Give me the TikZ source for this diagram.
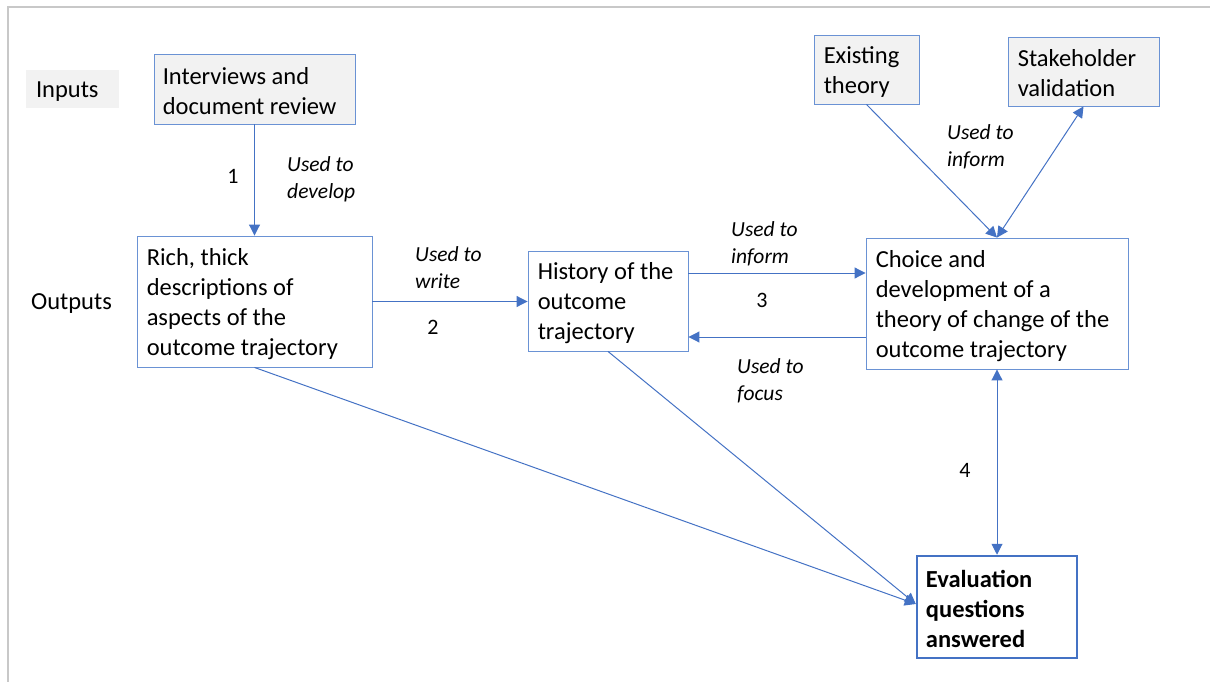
\documentclass[tikz,border=0pt]{standalone}
\usepackage{fontspec}
\setmainfont{Carlito}
\usetikzlibrary{arrows.meta,calc}
\definecolor{ablue}{HTML}{4472C4}
\definecolor{bblue}{HTML}{6A92D4}
\definecolor{ifill}{HTML}{F2F2F2}
\definecolor{framec}{HTML}{C8C8C8}
\begin{document}
\begin{tikzpicture}[x=1pt,y=-1pt,
  box/.style={draw=bblue,line width=0.9pt,inner sep=0pt},
  txt/.style={align=left,inner sep=0pt,anchor=west,font=\fontsize{24.5}{30}\selectfont},
  lbl/.style={font=\fontsize{21.5}{27}\selectfont\itshape,align=left,anchor=west,inner sep=0pt},
  num/.style={font=\fontsize{22}{27}\selectfont,inner sep=0pt},
  arr/.style={draw=ablue,line width=1pt,-{Triangle[length=11pt,width=11pt]}},
  darr/.style={draw=ablue,line width=1pt,{Triangle[length=11pt,width=11pt]}-{Triangle[length=11pt,width=11pt]}}]
\useasboundingbox (0,0) rectangle (1210,682);
\draw[framec,line width=2pt] (8,682) -- (8,7) -- (1210,7);

\node[fill=ifill,inner sep=0pt,minimum width=93pt,minimum height=38pt] (inp) at (72.5,89) {};
\node[txt] (inpt) at ([xshift=10pt,yshift=-3pt]inp.west) {Inputs};
\node[txt,anchor=center] (out) at (71.5,304) {Outputs};

\node[box,fill=ifill,minimum width=201pt,minimum height=70pt] (int) at (254.5,89) {};
\node[txt] (intt) at ([xshift=9pt,yshift=-2pt]int.west) {Interviews and\\document review};
\node[box,minimum width=235pt,minimum height=131pt] (rich) at (254.5,301.5) {};
\node[txt] (richt) at ([xshift=10pt,yshift=-2.5pt]rich.west) {Rich, thick\\descriptions of\\aspects of the\\outcome trajectory};
\node[box,minimum width=160pt,minimum height=100pt] (hist) at (608,301) {};
\node[txt] (histt) at ([xshift=10pt,yshift=-2pt]hist.west) {History of the\\outcome\\trajectory};
\node[box,minimum width=262pt,minimum height=131pt] (choice) at (997,303.5) {};
\node[txt] (choicet) at ([xshift=10pt,yshift=-3pt]choice.west) {Choice and\\development of a\\theory of change of the\\outcome trajectory};
\node[box,fill=ifill,minimum width=105pt,minimum height=69pt] (exist) at (866.5,69.5) {};
\node[txt] (existt) at ([xshift=10pt,yshift=-2.5pt]exist.west) {Existing\\theory};
\node[box,fill=ifill,minimum width=151pt,minimum height=69pt] (stake) at (1083.5,71.5) {};
\node[txt] (staket) at ([xshift=10pt,yshift=-2pt]stake.west) {Stakeholder\\validation};
\node[box,draw=ablue,line width=2.5pt,minimum width=160pt,minimum height=102pt] (eval) at (997,607) {};
\node[txt,font=\fontsize{24.5}{30}\selectfont\bfseries] (evalt) at ([xshift=10pt,yshift=-2pt]eval.west) {Evaluation\\questions\\answered};

\node[lbl] (l1) at (287,179) {Used to\\develop};
\node[lbl] (l2) at (415,268) {Used to\\write};
\node[lbl] (l3) at (731,244) {Used to\\inform};
\node[lbl] (l4) at (737,381) {Used to\\focus};
\node[lbl] (l5) at (947,147) {Used to\\inform};
\node[num] (n1) at (233,176) {1};
\node[num] (n2) at (433,327) {2};
\node[num] (n3) at (762,300) {3};
\node[num] (n4) at (965,470) {4};

\draw[arr] (int) -- (rich);
\draw[arr] (rich.east) -- (hist.west |- rich.east);
\coordinate (h3) at ([yshift=28pt]hist.east);
\draw[arr] (h3) -- (choice.west |- h3);
\coordinate (h4) at ([yshift=-36pt]hist.east);
\draw[arr] (choice.west |- h4) -- (h4);
\draw[arr] (exist.south) -- (choice.north);
\draw[darr] (choice.north) -- (stake.south);
\draw[darr] (choice.south) -- (eval.north);
\coordinate (ein) at ([yshift=3pt]eval.west);
\draw[arr] (rich.south) -- (ein);
\draw[arr] (hist.south) -- (ein);
\end{tikzpicture}
\end{document}
